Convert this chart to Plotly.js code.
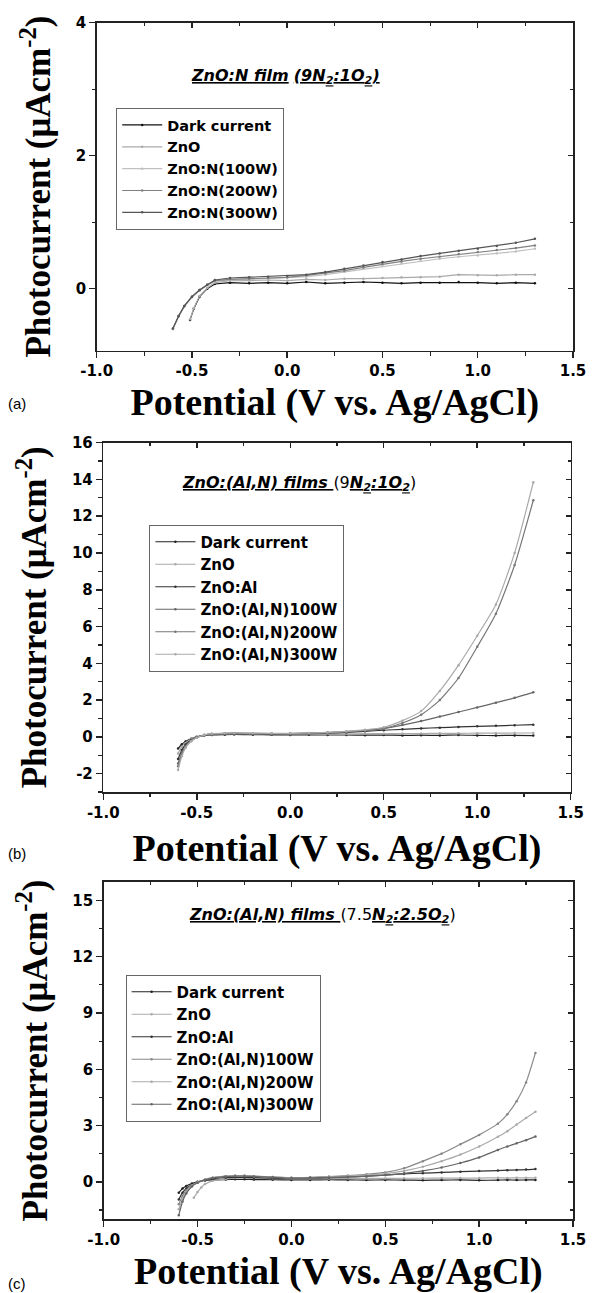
<!DOCTYPE html>
<html>
<head>
<meta charset="utf-8">
<script src="https://cdn.plot.ly/plotly-3.0.1.min.js"></script>
<style>html,body{margin:0;padding:0;background:#fff;}</style>
</head>
<body>
<div id="chart" style="width:592px;height:1293px;"></div>
<script>
// ---------- tick labels ----------
const xTickVals = [-1, -0.5, 0, 0.5, 1, 1.5];
const xTickText = ['-1.0', '-0.5', '0.0', '0.5', '1.0', '1.5'];
const yTickValsA = [0, 2, 4];
const yTickTextA = ['0', '2', '4'];
const yTickValsB = [-2, 0, 2, 4, 6, 8, 10, 12, 14, 16];
const yTickTextB = ['-2', '0', '2', '4', '6', '8', '10', '12', '14', '16'];
const yTickValsC = [0, 3, 6, 9, 12, 15];
const yTickTextC = ['0', '3', '6', '9', '12', '15'];

// ---------- panel (a): ZnO:N film (9N2:1O2) ----------
const namesA = ['Dark current', 'ZnO', 'ZnO:N(100W)', 'ZnO:N(200W)', 'ZnO:N(300W)'];
const xA_short = [-0.51,-0.49,-0.46,-0.42,-0.38,-0.3,-0.2,-0.1,0,0.1,0.2,0.3,0.4,0.5,0.6,0.7,0.8,0.9,1.0,1.1,1.2,1.3];
const xA_long = [-0.6,-0.57,-0.54,-0.5,-0.46,-0.42,-0.38,-0.3,-0.2,-0.1,0,0.1,0.2,0.3,0.4,0.5,0.6,0.7,0.8,0.9,1.0,1.1,1.2,1.3];
const darkA = [-0.47,-0.3,-0.12,0.0,0.07,0.09,0.08,0.09,0.08,0.1,0.08,0.09,0.1,0.09,0.08,0.09,0.09,0.1,0.09,0.08,0.09,0.08];
const znoA  = [-0.46,-0.29,-0.11,0.01,0.09,0.12,0.12,0.13,0.12,0.14,0.13,0.15,0.15,0.16,0.17,0.17,0.18,0.21,0.2,0.2,0.21,0.21];
const n100A = [-0.61,-0.42,-0.27,-0.13,-0.03,0.05,0.11,0.13,0.14,0.15,0.16,0.18,0.21,0.25,0.3,0.34,0.38,0.42,0.45,0.48,0.5,0.53,0.56,0.6];
const n200A = [-0.6,-0.41,-0.26,-0.12,-0.02,0.06,0.12,0.14,0.15,0.16,0.17,0.2,0.23,0.27,0.32,0.37,0.41,0.45,0.48,0.52,0.55,0.58,0.61,0.65];
const n300A = [-0.6,-0.41,-0.26,-0.12,-0.02,0.06,0.13,0.16,0.17,0.18,0.19,0.21,0.25,0.3,0.35,0.4,0.44,0.49,0.53,0.57,0.6,0.64,0.69,0.75];

// ---------- panel (b): ZnO:(Al,N) films (9N2:1O2) ----------
const namesB = ['Dark current', 'ZnO', 'ZnO:Al', 'ZnO:(Al,N)100W', 'ZnO:(Al,N)200W', 'ZnO:(Al,N)300W'];
const xB = [-0.6,-0.58,-0.56,-0.53,-0.5,-0.46,-0.42,-0.35,-0.3,-0.2,-0.1,0,0.1,0.2,0.3,0.4,0.5,0.6,0.7,0.8,0.9,1.0,1.1,1.2,1.3];
const darkB = [-0.64,-0.4,-0.25,-0.1,0.0,0.07,0.1,0.12,0.13,0.12,0.11,0.1,0.11,0.1,0.1,0.09,0.1,0.08,0.09,0.08,0.1,0.08,0.07,0.08,0.07];
const znoB  = [-0.9,-0.55,-0.33,-0.13,0.0,0.09,0.13,0.15,0.16,0.15,0.14,0.14,0.15,0.15,0.16,0.17,0.17,0.18,0.18,0.19,0.19,0.2,0.2,0.21,0.21];
const alB   = [-1.2,-0.72,-0.42,-0.17,-0.02,0.1,0.15,0.17,0.18,0.17,0.16,0.17,0.18,0.2,0.24,0.3,0.36,0.41,0.46,0.5,0.54,0.57,0.6,0.63,0.66];
const n100B = [-1.45,-0.85,-0.5,-0.2,-0.03,0.1,0.16,0.18,0.2,0.18,0.17,0.18,0.2,0.23,0.28,0.35,0.45,0.64,0.86,1.1,1.35,1.6,1.86,2.12,2.42];
const n200B = [-1.6,-0.95,-0.55,-0.22,-0.04,0.1,0.16,0.19,0.2,0.19,0.18,0.18,0.2,0.23,0.28,0.35,0.46,0.75,1.2,2.0,3.2,4.9,6.7,9.35,12.87];
const n300B = [-1.8,-1.05,-0.6,-0.24,-0.05,0.1,0.17,0.2,0.21,0.2,0.19,0.19,0.21,0.24,0.3,0.38,0.52,0.88,1.4,2.5,3.9,5.5,7.2,10.0,13.85];

// ---------- panel (c): ZnO:(Al,N) films (7.5N2:2.5O2) ----------
const namesC = ['Dark current', 'ZnO', 'ZnO:Al', 'ZnO:(Al,N)100W', 'ZnO:(Al,N)200W', 'ZnO:(Al,N)300W'];
const xC = [-0.6,-0.58,-0.56,-0.53,-0.5,-0.46,-0.42,-0.35,-0.3,-0.25,-0.2,-0.1,0,0.1,0.2,0.3,0.4,0.5,0.6,0.7,0.8,0.9,1.0,1.1,1.15,1.2,1.25,1.3];
const xC_short = [-0.52,-0.5,-0.48,-0.46,-0.42,-0.35,-0.3,-0.25,-0.2,-0.1,0,0.1,0.2,0.3,0.4,0.5,0.6,0.7,0.8,0.9,1.0,1.1,1.15,1.2,1.25,1.3];
const darkC = [-0.58,-0.36,-0.22,-0.09,0.0,0.07,0.1,0.12,0.13,0.13,0.12,0.11,0.1,0.1,0.11,0.1,0.09,0.1,0.09,0.08,0.09,0.1,0.08,0.09,0.1,0.09,0.1,0.1];
const znoC  = [-0.85,-0.55,-0.3,-0.12,0.05,0.15,0.2,0.22,0.2,0.18,0.17,0.17,0.17,0.18,0.18,0.18,0.19,0.19,0.2,0.2,0.2,0.21,0.2,0.21,0.21,0.21];
const alC   = [-0.94,-0.58,-0.36,-0.15,-0.02,0.1,0.17,0.22,0.24,0.23,0.22,0.2,0.19,0.2,0.22,0.26,0.3,0.36,0.42,0.46,0.5,0.54,0.57,0.6,0.62,0.63,0.65,0.68];
const n100C = [-1.2,-0.75,-0.45,-0.18,-0.03,0.12,0.22,0.3,0.32,0.33,0.3,0.26,0.22,0.24,0.28,0.33,0.4,0.5,0.72,1.1,1.5,2.0,2.5,3.1,3.6,4.3,5.3,6.87];
const n200C = [-1.47,-0.9,-0.54,-0.22,-0.04,0.12,0.22,0.3,0.33,0.32,0.3,0.25,0.21,0.22,0.26,0.3,0.36,0.44,0.58,0.8,1.1,1.45,1.88,2.4,2.7,3.05,3.4,3.74];
const n300C = [-1.78,-1.05,-0.62,-0.25,-0.05,0.1,0.2,0.28,0.3,0.3,0.28,0.24,0.2,0.21,0.23,0.26,0.3,0.36,0.45,0.58,0.76,1.0,1.3,1.7,1.88,2.05,2.22,2.42];

// ---------- styles ----------
const W = 592, H = 1293;
const px = v => v / W;
const py = v => 1 - v / H;
const AX = '#222';
const tickFont = {family: 'DejaVu Sans', size: 15, color: '#000', weight: 'bold'};
const xTitleFont = {family: 'Liberation Serif', size: 38, color: '#000', weight: 'bold'};
const yTitleFont = {family: 'Liberation Serif', size: 35, color: '#000', weight: 'bold'};

function series(x, y, name, color, legend, shape) {
  return {
    x: x, y: y, name: name, type: 'scatter', mode: 'lines+markers',
    line: {color: color, width: 1.2, shape: shape || 'linear', smoothing: 0.6},
    marker: {color: color, size: 2.5},
    legend: legend, xaxis: legend === 'legend' ? 'x' : (legend === 'legend2' ? 'x2' : 'x3'),
    yaxis: legend === 'legend' ? 'y' : (legend === 'legend2' ? 'y2' : 'y3'),
    hoverinfo: 'x+y+name'
  };
}

function xAxisDef(domain, anchor, titleStandoff) {
  return {
    domain: domain, anchor: anchor, range: [-1, 1.5], autorange: false,
    tickmode: 'array', tickvals: xTickVals, ticktext: xTickText,
    ticks: 'outside', ticklen: 6, tickwidth: 1.5, tickcolor: AX,
    minor: {tickmode: 'linear', tick0: 0, dtick: 0.25, ticks: 'outside', ticklen: 3.5, tickwidth: 1.2, tickcolor: AX},
    showline: true, linewidth: 1.5, linecolor: AX, mirror: true,
    showgrid: false, zeroline: false, tickfont: tickFont,
    title: {text: 'Potential (V vs. Ag/AgCl)', font: xTitleFont, standoff: titleStandoff}
  };
}
function yAxisDef(domain, anchor, range, vals, text, minorDtick) {
  return {
    domain: domain, anchor: anchor, range: range, autorange: false,
    tickmode: 'array', tickvals: vals, ticktext: text,
    ticks: 'outside', ticklen: 6, tickwidth: 1.5, tickcolor: AX,
    minor: {tickmode: 'linear', tick0: 0, dtick: minorDtick, ticks: 'outside', ticklen: 3.5, tickwidth: 1.2, tickcolor: AX},
    showline: true, linewidth: 1.5, linecolor: AX, mirror: true,
    showgrid: false, zeroline: false, tickfont: tickFont,
    title: {text: 'Photocurrent (μAcm<sup>-2</sup>)', font: yTitleFont, standoff: 14}
  };
}
function xMirror(overlay, anchor) {
  return {
    overlaying: overlay, anchor: anchor, side: 'top', range: [-1, 1.5], autorange: false,
    tickmode: 'linear', tick0: 0, dtick: 0.5, showticklabels: false,
    ticks: 'inside', ticklen: 5, tickwidth: 1.5, tickcolor: AX,
    minor: {tickmode: 'linear', tick0: 0, dtick: 0.25, ticks: 'inside', ticklen: 3, tickwidth: 1.2, tickcolor: AX},
    showline: false, showgrid: false, zeroline: false
  };
}
function yMirror(overlay, anchor, range, majorDtick, minorDtick) {
  return {
    overlaying: overlay, anchor: anchor, side: 'right', range: range, autorange: false,
    tickmode: 'linear', tick0: 0, dtick: majorDtick, showticklabels: false,
    ticks: 'inside', ticklen: 5, tickwidth: 1.5, tickcolor: AX,
    minor: {tickmode: 'linear', tick0: 0, dtick: minorDtick, ticks: 'inside', ticklen: 3, tickwidth: 1.2, tickcolor: AX},
    showline: false, showgrid: false, zeroline: false
  };
}
function legendDef(x, y, size) {
  return {
    x: x, y: y, xanchor: 'left', yanchor: 'top',
    bgcolor: 'rgba(255,255,255,0)', bordercolor: '#666', borderwidth: 1,
    font: {family: 'DejaVu Sans', size: size, color: '#000', weight: 'bold'},
    itemwidth: 40, tracegroupgap: 0
  };
}
function dummy(xa, ya) {
  return {x: [], y: [], xaxis: xa, yaxis: ya, type: 'scatter', mode: 'lines', showlegend: false, hoverinfo: 'skip'};
}

const rangeA = [-0.93, 4], rangeB = [-3, 16], rangeC = [-2, 16];
const colorsA = ['#111', '#aaa', '#c0c0c0', '#808080', '#555'];
const colorsB = ['#222', '#aaa', '#333', '#666', '#777', '#aaa'];
const colorsC = ['#222', '#aaa', '#333', '#888', '#aaa', '#666'];

const data = [
  series(xA_short, darkA, namesA[0], colorsA[0], 'legend'),
  series(xA_short, znoA,  namesA[1], colorsA[1], 'legend'),
  series(xA_long,  n100A, namesA[2], colorsA[2], 'legend'),
  series(xA_long,  n200A, namesA[3], colorsA[3], 'legend'),
  series(xA_long,  n300A, namesA[4], colorsA[4], 'legend'),

  series(xB, darkB, namesB[0], colorsB[0], 'legend2', 'spline'),
  series(xB, znoB,  namesB[1], colorsB[1], 'legend2', 'spline'),
  series(xB, alB,   namesB[2], colorsB[2], 'legend2', 'spline'),
  series(xB, n100B, namesB[3], colorsB[3], 'legend2', 'spline'),
  series(xB, n200B, namesB[4], colorsB[4], 'legend2', 'spline'),
  series(xB, n300B, namesB[5], colorsB[5], 'legend2', 'spline'),

  series(xC, darkC, namesC[0], colorsC[0], 'legend3', 'spline'),
  series(xC_short, znoC, namesC[1], colorsC[1], 'legend3', 'spline'),
  series(xC, alC,   namesC[2], colorsC[2], 'legend3', 'spline'),
  series(xC, n100C, namesC[3], colorsC[3], 'legend3', 'spline'),
  series(xC, n200C, namesC[4], colorsC[4], 'legend3', 'spline'),
  series(xC, n300C, namesC[5], colorsC[5], 'legend3', 'spline'),

  dummy('x4', 'y'), dummy('x', 'y4'),
  dummy('x5', 'y2'), dummy('x2', 'y5'),
  dummy('x6', 'y3'), dummy('x3', 'y6')
];

const filmFont = {family: 'DejaVu Sans', size: 16, color: '#000'};
const labelFont = {family: 'Liberation Sans', size: 15, color: '#000'};

const layout = {
  width: W, height: H,
  margin: {l: 0, r: 0, t: 0, b: 0},
  paper_bgcolor: '#fff', plot_bgcolor: '#fff',
  showlegend: true,
  xaxis:  xAxisDef([px(96.7), px(573)], 'y', 9),
  yaxis:  yAxisDef([py(350.5), py(22.7)], 'x', rangeA, yTickValsA, yTickTextA, 1),
  xaxis2: xAxisDef([px(103.3), px(570.7)], 'y2', 14),
  yaxis2: yAxisDef([py(792), py(442.7)], 'x2', rangeB, yTickValsB, yTickTextB, 1),
  xaxis3: xAxisDef([px(103.7), px(573)], 'y3', 10),
  yaxis3: yAxisDef([py(1219.3), py(881.7)], 'x3', rangeC, yTickValsC, yTickTextC, 1.5),
  xaxis4: xMirror('x', 'y'),
  yaxis4: yMirror('y', 'x', rangeA, 2, 1),
  xaxis5: xMirror('x2', 'y2'),
  yaxis5: yMirror('y2', 'x2', rangeB, 2, 1),
  xaxis6: xMirror('x3', 'y3'),
  yaxis6: yMirror('y3', 'x3', rangeC, 3, 1.5),
  legend:  legendDef(px(116.2), py(108), 14.5),
  legend2: legendDef(px(149.4), py(524.5), 15),
  legend3: legendDef(px(125.6), py(974.5), 15),
  annotations: [
    {text: '<b><i><u>ZnO:N film</u></i></b> <b><i><u>(9N<sub>2</sub>:1O<sub>2</sub>)</u></i></b>',
     x: px(285.7), y: py(76.7), xref: 'paper', yref: 'paper', xanchor: 'center', yanchor: 'middle', showarrow: false, font: filmFont},
    {text: '<b><i><u>ZnO:(Al,N) films </u></i></b>(9<b><i><u>N<sub>2</sub>:1O<sub>2</sub></u></i></b>)',
     x: px(299), y: py(483.3), xref: 'paper', yref: 'paper', xanchor: 'center', yanchor: 'middle', showarrow: false, font: filmFont},
    {text: '<b><i><u>ZnO:(Al,N) films </u></i></b>(7.5<b><i><u>N<sub>2</sub>:2.5O<sub>2</sub></u></i></b>)',
     x: px(322.5), y: py(915), xref: 'paper', yref: 'paper', xanchor: 'center', yanchor: 'middle', showarrow: false, font: filmFont},
    {text: '(a)', x: px(17), y: py(403), xref: 'paper', yref: 'paper', xanchor: 'center', yanchor: 'middle', showarrow: false, font: labelFont},
    {text: '(b)', x: px(17), y: py(853), xref: 'paper', yref: 'paper', xanchor: 'center', yanchor: 'middle', showarrow: false, font: labelFont},
    {text: '(c)', x: px(17), y: py(1283), xref: 'paper', yref: 'paper', xanchor: 'center', yanchor: 'middle', showarrow: false, font: labelFont}
  ]
};

Plotly.newPlot('chart', data, layout, {displayModeBar: false, staticPlot: true});
</script>
</body>
</html>
